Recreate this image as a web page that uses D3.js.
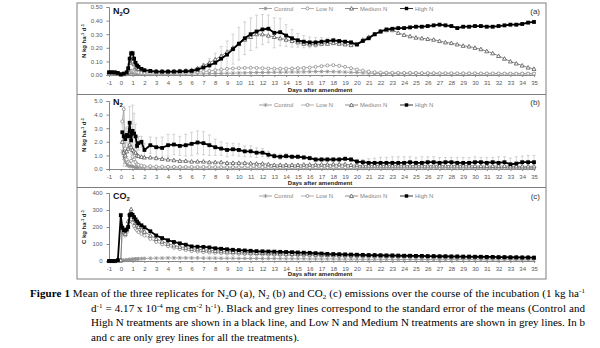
<!DOCTYPE html>
<html><head><meta charset="utf-8">
<script src="https://cdn.jsdelivr.net/npm/d3@7/dist/d3.min.js"></script>
<style>body{margin:0;background:#fff}svg{display:block}</style>
</head><body><svg id="c" width="600" height="348"></svg>
<script>
// ---------------- DATA ----------------
const xTickLabels = [-1,0,1,2,3,4,5,6,7,8,9,10,11,12,13,14,15,16,17,18,19,20,21,22,23,24,25,26,27,28,29,30,31,32,33,34,35];
const seriesNames = ["Control","Low N","Medium N","High N"];
const yTicksA = [0,0.1,0.2,0.3,0.4,0.5];
const yTicksB = [0,1,2,3,4,5];
const yTicksC = [0,100,200,300,400];

// Panel (a) N2O
const daysA = [
 -1,-0.75,-0.5,-0.25,0,0.25,0.5,0.625,0.75,0.875,1,1.125,1.25,1.375,1.5,1.75,2,
 2.5,3,3.5,4,4.5,5,5.5,6,
 6.5,7,7.5,8,8.5,9,9.5,10,10.5,11,11.5,12,
 12.5,13,13.5,14,14.5,15,15.5,16,16.5,17,17.5,18,
 18.5,19,19.5,20,20.5,21,21.5,22,
 22.5,23,23.5,24,24.5,25,25.5,26,26.5,27,27.5,28,28.5,
 29,29.5,30,30.5,31,31.5,32,32.5,33,33.5,34,34.5,35];
const n2oControl = [
 0.005,0.005,0.005,0.005,0.003,0.003,0.005,0.008,0.012,0.015,0.015,0.012,0.01,0.008,0.007,0.006,0.005,
 0.005,0.005,0.005,0.005,0.005,0.006,0.006,0.007,
 0.008,0.009,0.01,0.011,0.012,0.013,0.014,0.015,0.016,0.017,0.018,0.018,
 0.019,0.02,0.02,0.021,0.022,0.022,0.023,0.024,0.025,0.025,0.025,0.024,
 0.023,0.021,0.02,0.018,0.016,0.014,0.012,0.011,
 0.01,0.01,0.01,0.01,0.01,0.01,0.01,0.009,0.009,0.009,0.009,0.009,0.009,
 0.009,0.009,0.009,0.008,0.008,0.008,0.008,0.008,0.008,0.008,0.008,0.008,0.008];
const n2oLowN = [
 0.01,0.01,0.01,0.01,0.005,0.005,0.01,0.015,0.025,0.03,0.03,0.025,0.02,0.02,0.018,0.015,0.015,
 0.015,0.015,0.015,0.015,0.015,0.015,0.017,0.02,
 0.022,0.025,0.03,0.035,0.04,0.045,0.048,0.05,0.052,0.053,0.052,0.05,
 0.048,0.047,0.046,0.047,0.048,0.05,0.052,0.055,0.06,0.065,0.07,0.072,
 0.068,0.06,0.05,0.04,0.032,0.025,0.02,0.018,
 0.017,0.016,0.016,0.015,0.015,0.015,0.014,0.014,0.014,0.013,0.013,0.013,0.012,
 0.012,0.012,0.012,0.011,0.011,0.011,0.011,0.01,0.01,0.01,0.01,0.01,0.01];
const n2oMediumN = [
 0.02,0.02,0.015,0.01,0.005,0.01,0.015,0.04,0.09,0.11,0.10,0.08,0.06,0.05,0.045,0.04,0.035,
 0.03,0.028,0.027,0.027,0.028,0.03,0.033,0.038,
 0.05,0.07,0.09,0.115,0.14,0.17,0.2,0.23,0.26,0.28,0.3,0.3,
 0.29,0.28,0.27,0.26,0.25,0.24,0.23,0.225,0.225,0.23,0.23,0.235,
 0.23,0.225,0.22,0.225,0.26,0.28,0.3,0.32,
 0.33,0.33,0.31,0.295,0.285,0.275,0.27,0.265,0.26,0.25,0.24,0.235,0.225,
 0.215,0.21,0.2,0.19,0.175,0.16,0.14,0.12,0.1,0.085,0.07,0.055,0.045];
const n2oHighN = [
 0.02,0.02,0.02,0.015,0.005,0.01,0.02,0.05,0.12,0.16,0.16,0.12,0.09,0.07,0.06,0.045,0.035,
 0.03,0.025,0.025,0.025,0.025,0.027,0.028,0.03,
 0.04,0.055,0.07,0.09,0.12,0.15,0.19,0.23,0.27,0.3,0.32,0.335,
 0.34,0.31,0.315,0.29,0.27,0.255,0.245,0.24,0.24,0.245,0.25,0.255,
 0.25,0.245,0.24,0.225,0.25,0.27,0.3,0.32,
 0.335,0.34,0.345,0.345,0.35,0.355,0.355,0.36,0.365,0.37,0.365,0.36,0.345,
 0.355,0.355,0.36,0.36,0.355,0.355,0.36,0.365,0.37,0.37,0.375,0.385,0.39];
const n2oHighNSE = [
 0,0,0,0,0,0,0,0.005,0.01,0.015,0.015,0.01,0.005,0,0,0,0,
 0,0,0,0,0,0,0,0.005,
 0.01,0.03,0.05,0.07,0.09,0.1,0.11,0.12,0.12,0.12,0.12,0.11,
 0.1,0.11,0.1,0.08,0.065,0.05,0.045,0.04,0.035,0.03,0.02,0.015,
 0.01,0.01,0.01,0.01,0.01,0.01,0.01,0.01,
 0.01,0.01,0.01,0.01,0.01,0.01,0.01,0.01,0.01,0.01,0.01,0.01,0.01,
 0.01,0.01,0.01,0.01,0.01,0.01,0.01,0.01,0.01,0.01,0.01,0.01,0.01];

// Panel (b) N2
const daysB = [
 0.125,0.25,0.375,0.5,0.625,0.75,0.875,1,1.125,1.25,1.375,1.5,1.75,2,
 2.5,3,3.5,4,4.5,5,5.5,6,
 6.5,7,7.5,8,8.5,9,9.5,10,10.5,11,11.5,12,
 12.5,13,13.5,14,14.5,15,15.5,16,16.5,17,17.5,18,
 18.5,19,19.5,20,20.5,21,21.5,22,
 22.5,23,23.5,24,24.5,25,25.5,26,26.5,27,27.5,28,28.5,
 29,29.5,30,30.5,31,31.5,32,32.5,33,33.5,34,34.5,35];
const n2Control = [
 1.3,0.8,0.5,0.3,0.25,0.2,0.2,0.18,0.15,0.12,0.1,0.1,0.08,0.08,
 0.07,0.07,0.07,0.07,0.07,0.07,0.07,0.07,
 0.07,0.07,0.07,0.06,0.06,0.06,0.06,0.06,0.06,0.06,0.06,0.06,
 0.06,0.06,0.06,0.06,0.06,0.06,0.05,0.05,0.05,0.05,0.05,0.05,
 0.05,0.05,0.05,0.05,0.05,0.05,0.05,0.05,
 0.05,0.05,0.05,0.05,0.05,0.05,0.05,0.05,0.05,0.05,0.05,0.05,0.05,
 0.05,0.05,0.05,0.05,0.05,0.05,0.05,0.05,0.05,0.05,0.05,0.05,0.05];
const n2LowN = [
 3.5,4.4,1.5,0.7,0.5,0.4,0.6,0.9,0.7,0.5,0.35,0.3,0.25,0.2,
 0.2,0.18,0.17,0.16,0.16,0.15,0.15,0.15,
 0.15,0.15,0.15,0.14,0.14,0.14,0.14,0.13,0.13,0.13,0.13,0.13,
 0.12,0.12,0.12,0.12,0.12,0.12,0.12,0.12,0.12,0.12,0.12,0.12,
 0.12,0.12,0.12,0.12,0.11,0.11,0.11,0.11,
 0.11,0.11,0.11,0.11,0.11,0.1,0.1,0.1,0.1,0.1,0.1,0.1,0.1,
 0.1,0.1,0.1,0.1,0.1,0.1,0.1,0.1,0.1,0.1,0.1,0.1,0.1];
const n2MediumN = [
 2.0,1.2,1.0,1.3,1.5,1.8,1.6,1.4,1.3,1.2,1.0,0.95,0.9,0.85,
 0.85,0.8,0.75,0.7,0.65,0.6,0.6,0.55,
 0.55,0.55,0.5,0.5,0.5,0.45,0.45,0.45,0.45,0.42,0.4,0.4,
 0.35,0.3,0.3,0.3,0.3,0.3,0.32,0.32,0.32,0.33,0.33,0.35,
 0.35,0.35,0.3,0.28,0.25,0.25,0.25,0.25,
 0.25,0.25,0.25,0.25,0.25,0.25,0.25,0.25,0.25,0.25,0.25,0.25,0.25,
 0.25,0.25,0.22,0.22,0.22,0.22,0.22,0.22,0.2,0.2,0.2,0.2,0.2];
const n2HighN = [
 2.7,2.4,2.2,2.5,2.4,3.4,2.1,2.8,2.6,2.4,1.7,1.9,2.0,1.4,
 1.75,1.6,1.55,1.75,1.8,1.7,1.75,1.85,
 1.95,1.9,1.75,1.6,1.5,1.4,1.45,1.4,1.3,1.3,1.2,1.2,
 1.05,0.95,0.9,0.95,0.9,0.9,0.85,0.8,0.7,0.7,0.7,0.7,
 0.7,0.75,0.7,0.55,0.5,0.45,0.45,0.45,
 0.45,0.45,0.45,0.45,0.5,0.45,0.45,0.5,0.5,0.45,0.5,0.5,0.45,
 0.45,0.45,0.5,0.5,0.45,0.5,0.45,0.5,0.35,0.4,0.5,0.5,0.5];
const n2HighNSE = [
 0.6,2.2,0.8,0.6,0.6,1.2,1.0,1.9,1.5,0.9,0.6,0.5,0.4,0.5,
 0.6,0.7,0.8,0.8,0.75,0.7,0.8,0.85,
 0.85,0.85,0.75,0.6,0.5,0.5,0.45,0.45,0.4,0.4,0.35,0.3,
 0.25,0.2,0.2,0.2,0.15,0.15,0.15,0.15,0.15,0.15,0.15,0.15,
 0.15,0.15,0.15,0.15,0.2,0.3,0.35,0.4,
 0.4,0.45,0.45,0.45,0.4,0.4,0.45,0.4,0.4,0.4,0.35,0.35,0.4,
 0.4,0.4,0.4,0.35,0.4,0.35,0.45,0.4,0.45,0.5,0.45,0.5,0.5];

// Panel (c) CO2
const daysC = [
 -1,-0.75,-0.5,-0.25,0,0.125,0.25,0.375,0.5,0.625,0.75,0.875,1,1.125,1.25,1.375,1.5,1.75,2,
 2.5,3,3.5,4,4.5,5,5.5,6,
 6.5,7,7.5,8,8.5,9,9.5,10,10.5,11,11.5,12,
 12.5,13,13.5,14,14.5,15,15.5,16,16.5,17,17.5,18,
 18.5,19,19.5,20,20.5,21,21.5,22,
 22.5,23,23.5,24,24.5,25,25.5,26,26.5,27,27.5,28,28.5,
 29,29.5,30,30.5,31,31.5,32,32.5,33,33.5,34,34.5,35];
const co2Control = [
 0,0,0,1,2,3,4,5,6,7,8,9,10,11,12,12,13,14,15,
 16,17,17,18,18,18,18,18,
 18,17,17,17,16,16,16,15,15,15,15,14,
 14,14,14,13,13,13,13,12,12,12,12,12,
 11,11,11,11,10,10,10,10,
 10,10,9,9,9,9,9,9,8,8,8,8,8,
 8,8,8,7,7,7,7,7,7,6,6,6,6];
const co2LowN = [
 0,0,0,2,3,175,165,150,170,200,235,245,225,205,190,180,170,160,150,
 130,112,98,87,78,70,64,58,
 55,52,50,48,46,44,43,42,41,40,39,38,
 37,36,36,35,34,34,33,33,32,32,31,31,
 30,30,29,29,28,28,27,27,
 26,26,26,25,25,25,24,24,24,23,23,23,22,
 22,22,21,21,21,20,20,20,19,19,19,18,18];
const co2MediumN = [
 0,0,0,3,5,205,170,160,190,235,280,305,270,245,225,210,200,185,172,
 150,130,115,102,92,84,78,72,
 69,66,63,60,58,56,54,52,51,50,48,47,
 46,45,44,43,42,41,40,39,38,37,36,35,
 34,34,33,33,32,32,31,31,
 30,30,29,29,28,28,27,27,26,26,26,25,25,
 24,24,24,23,23,22,22,21,21,20,20,20,19];
const co2HighN = [
 0,0,0,5,270,195,182,178,185,200,270,276,272,258,245,232,222,210,198,
 175,150,135,122,112,104,96,86,
 84,83,80,75,72,69,66,64,62,60,58,57,
 56,55,54,53,52,50,49,48,46,44,42,41,
 40,39,38,37,36,35,35,34,
 33,33,32,31,31,30,30,29,29,28,28,27,27,
 26,26,25,25,24,24,23,23,22,22,21,21,20];

// ---------------- CHECK ----------------
const checks = [[daysA,[n2oControl,n2oLowN,n2oMediumN,n2oHighN,n2oHighNSE]],
                [daysB,[n2Control,n2LowN,n2MediumN,n2HighN,n2HighNSE]],
                [daysC,[co2Control,co2LowN,co2MediumN,co2HighN]]];
checks.forEach(([d,arrs],i)=>arrs.forEach((a,j)=>{ if(a.length!==d.length) throw new Error(`panel ${i} series ${j}: ${a.length} vs ${d.length}`); }));

// ---------------- DRAW ----------------
const svg = d3.select("#c");
const FONT = "'Liberation Sans', Arial, sans-serif";
const x = d3.scaleLinear().domain([-1,35]).range([109,534]);
const axisGrey = "#868686", labGrey = "#595959";

// frame
svg.append("rect").attr("x",77).attr("y",3).attr("width",469).attr("height",276)
  .attr("fill","none").attr("stroke","#7f7f7f").attr("stroke-width",1);
[94.5,187.5].forEach(yy=>svg.append("line").attr("x1",77).attr("x2",546).attr("y1",yy).attr("y2",yy).attr("stroke","#7f7f7f"));

const styles = {
  "Control": {line:"#8c8c8c", sym:"star"},
  "Low N": {line:"#a0a0a0", sym:"circle"},
  "Medium N": {line:"#6e6e6e", sym:"triangle"},
  "High N": {line:"#000", sym:"square"}
};
function marker(g, sym, cx, cy, scale=1){
  if(sym==="square"){
    g.append("rect").attr("x",cx-1.9*scale).attr("y",cy-1.9*scale).attr("width",3.8*scale).attr("height",3.8*scale).attr("fill","#000");
  } else if(sym==="circle"){
    g.append("circle").attr("cx",cx).attr("cy",cy).attr("r",1.7*scale).attr("fill","#fff").attr("stroke","#8a8a8a").attr("stroke-width",0.8);
  } else if(sym==="triangle"){
    const s=2.2*scale;
    g.append("path").attr("d",`M${cx},${cy-s}L${cx+s},${cy+s*0.8}L${cx-s},${cy+s*0.8}Z`).attr("fill","#fff").attr("stroke","#555").attr("stroke-width",0.8);
  } else {
    const s=1.8*scale;
    g.append("path").attr("d",`M${cx-s},${cy-s}L${cx+s},${cy+s}M${cx-s},${cy+s}L${cx+s},${cy-s}M${cx},${cy-s*1.2}V${cy+s*1.2}`).attr("stroke","#8a8a8a").attr("stroke-width",0.7).attr("fill","none");
  }
}

function panel(cfg){
  const y = d3.scaleLinear().domain(cfg.yDomain).range(cfg.yRange);
  const g = svg.append("g");
  // y axis
  const ya = g.append("g").attr("transform",`translate(${x(-1)},0)`)
    .call(d3.axisLeft(y).tickValues(cfg.yTicks).tickFormat(cfg.fmt).tickSize(2.5).tickPadding(4));
  ya.select(".domain").attr("stroke",axisGrey);
  ya.selectAll(".tick line").attr("stroke",axisGrey);
  ya.selectAll("text").attr("font-family",FONT).attr("font-size",6).attr("fill",labGrey);
  // x axis
  const xa = g.append("g").attr("transform",`translate(0,${y(0)})`)
    .call(d3.axisBottom(x).tickValues(xTickLabels).tickFormat(d=>String(d)).tickSize(2).tickPadding(4).tickSizeOuter(0));
  xa.select(".domain").attr("stroke",axisGrey);
  xa.selectAll(".tick line").attr("stroke",axisGrey);
  xa.selectAll("text").attr("font-family",FONT).attr("font-size",6).attr("fill",labGrey);
  // x title
  g.append("text").attr("x",320).attr("y",cfg.xTitleY).attr("text-anchor","middle")
    .attr("font-family",FONT).attr("font-size",6).attr("font-weight","bold").attr("fill","#222").text("Days after amendment");
  // y title
  const yt = g.append("text").attr("transform",`translate(86,${(cfg.yRange[0]+cfg.yRange[1])/2}) rotate(-90)`)
    .attr("text-anchor","middle").attr("font-family",FONT).attr("font-size",6).attr("font-weight","bold").attr("fill","#222");
  yt.append("tspan").text(cfg.unitEl+" kg ha");
  yt.append("tspan").attr("font-size",4).attr("dy",-2).text("-1");
  yt.append("tspan").attr("dy",2).text(" d");
  yt.append("tspan").attr("font-size",4).attr("dy",-2).text("-1");
  // panel gas label
  const gl = g.append("text").attr("x",113).attr("y",cfg.labelY).attr("font-family",FONT)
    .attr("font-size",9).attr("font-weight","bold").attr("fill","#111");
  cfg.gas.forEach(p=>{ const t=gl.append("tspan").text(p.t); if(p.sub){t.attr("font-size",6).attr("dy",2);} else if(p.after){t.attr("dy",-2);} });
  // panel letter
  g.append("text").attr("x",540).attr("y",cfg.labelY).attr("text-anchor","end").attr("font-family",FONT)
    .attr("font-size",8).attr("fill","#333").text(cfg.letter);
  // legend
  const lx = [259,301,345,400];
  seriesNames.forEach((nm,i)=>{
    const st = styles[nm], ly = cfg.legendY;
    g.append("line").attr("x1",lx[i]).attr("x2",lx[i]+13).attr("y1",ly).attr("y2",ly).attr("stroke",st.line).attr("stroke-width",0.8);
    marker(g, st.sym, lx[i]+6.5, ly, 0.9);
    g.append("text").attr("x",lx[i]+15).attr("y",ly+2).attr("font-family",FONT).attr("font-size",6).attr("fill","#7f7f7f").text(nm);
  });
  // error bars
  if(cfg.se){
    const eg = g.append("g").attr("stroke","#b8b8b8").attr("stroke-width",0.6);
    cfg.days.forEach((d,i)=>{
      const v=cfg.series[3][i], e=cfg.se[i];
      if(v==null||!e) return;
      const xx=x(d), y1=y(v+e), y2=y(Math.max(0,v-e));
      eg.append("line").attr("x1",xx).attr("x2",xx).attr("y1",y1).attr("y2",y2);
      eg.append("line").attr("x1",xx-1.5).attr("x2",xx+1.5).attr("y1",y1).attr("y2",y1);
      eg.append("line").attr("x1",xx-1.5).attr("x2",xx+1.5).attr("y1",y2).attr("y2",y2);
    });
  }
  // series
  seriesNames.forEach((nm,si)=>{
    const st=styles[nm], vals=cfg.series[si];
    const pts = cfg.days.map((d,i)=>[d,vals[i]]).filter(p=>p[1]!=null);
    g.append("path").datum(pts).attr("fill","none").attr("stroke",st.line)
      .attr("stroke-width", nm==="High N"?1.8:0.8)
      .attr("d", d3.line().x(p=>x(p[0])).y(p=>y(p[1])));
    const mg=g.append("g");
    pts.forEach(p=>marker(mg, st.sym, x(p[0]), y(p[1]), nm==="High N"?1.0:0.9));
  });
}

panel({yDomain:[0,0.5], yRange:[75,7], yTicks:yTicksA, fmt:d3.format(".2f"), xTitleY:91.5,
  unitEl:"N", labelY:14, legendY:8.5, letter:"(a)",
  gas:[{t:"N"},{t:"2",sub:true},{t:"O",after:true}],
  days:daysA, series:[n2oControl,n2oLowN,n2oMediumN,n2oHighN], se:n2oHighNSE});
panel({yDomain:[0,5], yRange:[169,101], yTicks:yTicksB, fmt:d3.format(".1f"), xTitleY:184.5,
  unitEl:"N", labelY:105, legendY:105, letter:"(b)",
  gas:[{t:"N"},{t:"2",sub:true}],
  days:daysB, series:[n2Control,n2LowN,n2MediumN,n2HighN], se:n2HighNSE});
panel({yDomain:[0,400], yRange:[261,193], yTicks:yTicksC, fmt:d3.format("d"), xTitleY:276,
  unitEl:"C", labelY:199, legendY:196, letter:"(c)",
  gas:[{t:"CO"},{t:"2",sub:true}],
  days:daysC, series:[co2Control,co2LowN,co2MediumN,co2HighN], se:null});

// ---------------- CAPTION ----------------
const SERIF = "'Liberation Serif', 'Times New Roman', serif";
function cap(xp, yp, parts, len){
  const t = svg.append("text").attr("x",xp).attr("y",yp).attr("font-family",SERIF).attr("font-size",11).attr("fill","#000");
  if(len) t.attr("textLength",len).attr("lengthAdjust","spacing");
  parts.forEach(p=>{
    const s=t.append("tspan").text(p.t);
    if(p.b) s.attr("font-weight","bold");
    if(p.sup) s.attr("font-size",7).attr("dy",-4);
    if(p.sub) s.attr("font-size",7).attr("dy",2);
    if(p.back) s.attr("dy",p.back);
  });
}
cap(30,297,[{t:"Figure 1",b:true},{t:" Mean of the three replicates for N"},{t:"2",sub:true},{t:"O (a), N",back:-2},{t:"2",sub:true},{t:" (b) and CO",back:-2},{t:"2",sub:true},{t:" (c) emissions over the course of the incubation (1 kg ha",back:-2},{t:"-1",sup:true}],555);
cap(91,311.5,[{t:"d"},{t:"-1",sup:true},{t:" = 4.17 x 10",back:4},{t:"-4",sup:true},{t:" mg cm",back:4},{t:"-2",sup:true},{t:" h",back:4},{t:"-1",sup:true},{t:"). Black and grey lines correspond to the standard error of the means (Control and",back:4}],494);
cap(91,326,[{t:"High N treatments are shown in a black line, and Low N and Medium N treatments are shown in grey lines. In b"}],494);
cap(91,340.5,[{t:"and c are only grey lines for all the treatments)."}],null);
</script></body></html>
